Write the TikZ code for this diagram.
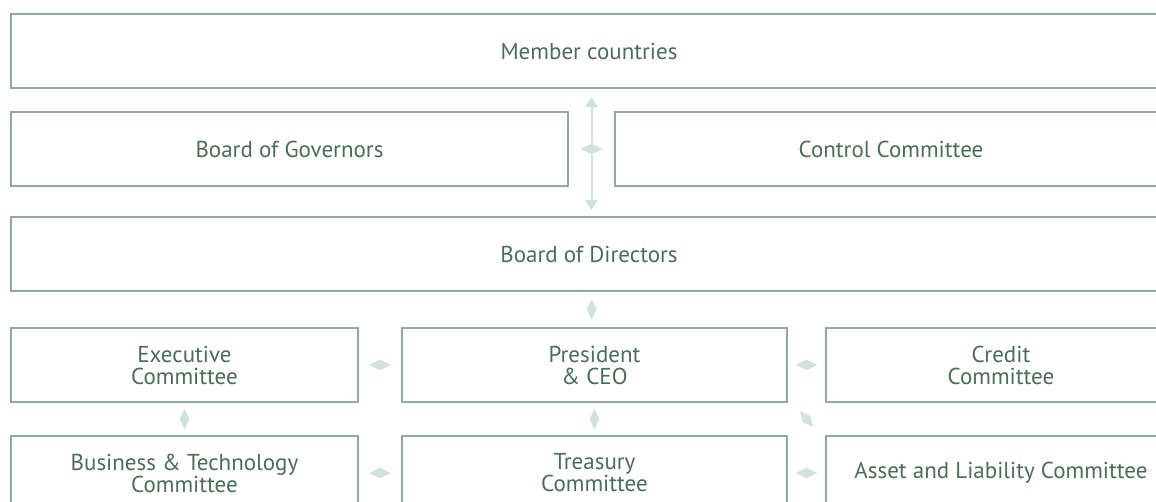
\documentclass[tikz,border=0pt]{standalone}
\usepackage{fontspec}
\setmainfont{PT Sans}
\usetikzlibrary{positioning,shapes.geometric,calc,arrows.meta}

\definecolor{boxline}{HTML}{8FAB99}
\definecolor{boxtext}{HTML}{4A6D58}
\definecolor{markfill}{HTML}{CFE3D8}

\begin{document}
\begin{tikzpicture}[
govbox/.style={rectangle, draw=boxline, line width=1pt, text=boxtext, minimum height=37pt, align=center, font=\fontsize{11.5}{11}\selectfont},
hmark/.style={diamond, fill=markfill, inner sep=0pt, minimum width=11pt, minimum height=5.5pt},
vmark/.style={diamond, fill=markfill, inner sep=0pt, minimum width=5pt, minimum height=10.5pt},
flow/.style={draw=markfill, line width=1pt, -{Triangle[width=6pt,length=5pt]}},
]
\useasboundingbox (0,0) rectangle (578pt,-251pt);
\clip (0,0) rectangle (578pt,-251pt);

%Nodes
\node[govbox, minimum width=578pt, anchor=north west] (member) at (5pt,-6.5pt) {Member countries};

\node[govbox, minimum width=278.5pt] (gov) [below=11pt of member.south west, anchor=north west] {Board of Governors};
\node[govbox, minimum width=276pt] (control) [right=22.5pt of gov] {Control Committee};

\node[govbox, minimum width=578pt] (directors) [below=14.5pt of gov.south west, anchor=north west] {Board of Directors};

\node[govbox, minimum width=173.5pt] (exec) [below=17.5pt of directors.south west, anchor=north west] {Executive\\Committee};
\node[govbox, minimum width=192.5pt] (president) [right=21pt of exec] {President\\\& CEO};
\node[govbox, minimum width=175pt] (credit) [right=18.5pt of president] {Credit\\Committee};

\node[govbox, minimum width=173.5pt] (business) [below=16pt of exec] {Business \& Technology\\Committee};
\node[govbox, minimum width=192.5pt] (treasury) [below=16pt of president] {Treasury\\Committee};
\node[govbox, minimum width=175pt] (asset) [below=16pt of credit] {Asset and Liability Committee};

%Markers
\node[hmark] (hub) at ($(gov.east)!0.5!(control.west)$) {};
\node[vmark] (dirpres) at ($(directors.south)!0.5!(president.north)$) {};
\node[hmark] (execpres) at ($(exec.east)!0.5!(president.west)$) {};
\node[hmark] (prescredit) at ($(president.east)!0.5!(credit.west)$) {};
\node[vmark] (execbus) at ($(exec.south)!0.5!(business.north)$) {};
\node[vmark] (prestreas) at ($(president.south)!0.5!(treasury.north)$) {};
\node[vmark, rotate=40] (presasset) at ($(president.south east)!0.5!(asset.north west)$) {};
\node[hmark] (bustreas) at ($(business.east)!0.5!(treasury.west)$) {};
\node[hmark] (treasasset) at ($(treasury.east)!0.5!(asset.west)$) {};

%Lines
\draw[flow, shorten >=4pt] (hub) -- (hub |- member.south);
\draw[flow, shorten >=3pt] (hub) -- (hub |- directors.north);
\end{tikzpicture}
\end{document}
